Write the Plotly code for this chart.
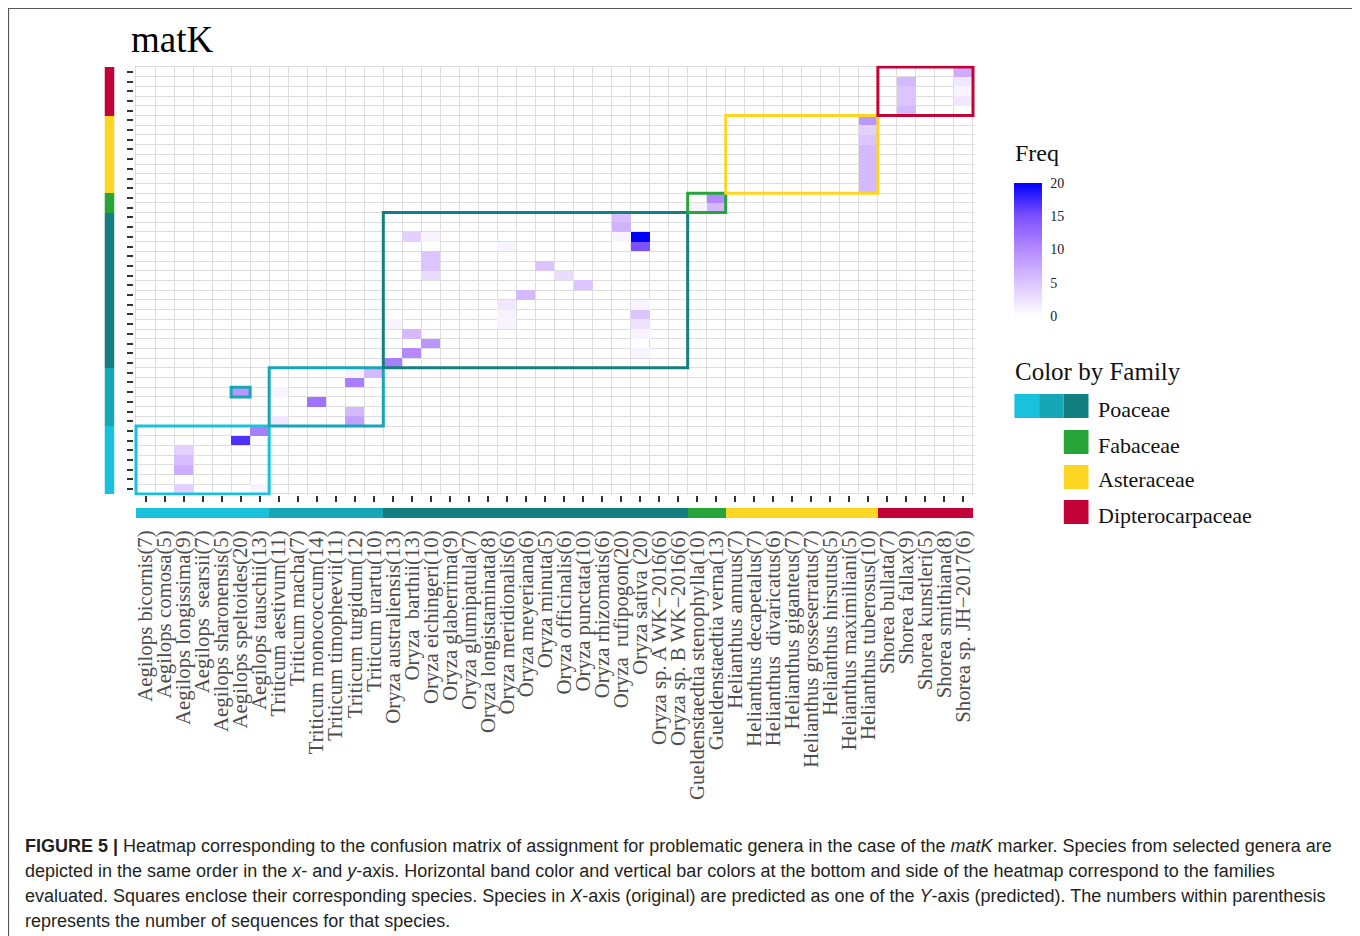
import plotly.graph_objects as go

# ---------------- data ----------------
species = [
    "Aegilops bicornis(7)", "Aegilops comosa(5)", "Aegilops longissima(9)", "Aegilops  searsii(7)",
    "Aegilops sharonensis(5)", "Aegilops speltoides(20)", "Aegilops tauschii(13)",
    "Triticum aestivum(11)", "Triticum macha(7)", "Triticum monococcum(14)", "Triticum timopheevii(11)",
    "Triticum turgidum(12)", "Triticum urartu(10)",
    "Oryza australiensis(13)", "Oryza  barthii(13)", "Oryza eichingeri(10)", "Oryza glaberrima(9)",
    "Oryza glumipatula(7)", "Oryza longistaminata(8)", "Oryza meridionalis(6)", "Oryza meyeriana(6)",
    "Oryza minuta(5)", "Oryza officinalis(6)", "Oryza punctata(10)", "Oryza rhizomatis(6)",
    "Oryza  rufipogon(20)", "Oryza sativa (20)", "Oryza sp. A WK\u22122016(6)", "Oryza sp. B WK\u22122016(6)",
    "Gueldenstaedtia stenophylla(10)", "Gueldenstaedtia verna(13)",
    "Helianthus annuus(7)", "Helianthus decapetalus(7)", "Helianthus  divaricatus(6)", "Helianthus giganteus(7)",
    "Helianthus grosseserratus(7)", "Helianthus hirsutus(5)", "Helianthus maximiliani(5)", "Helianthus tuberosus(10)",
    "Shorea bullata(7)", "Shorea fallax(9)", "Shorea kunstleri(5)", "Shorea smithiana(8)", "Shorea sp. JH\u22122017(6)",
]

genera = ["Aegilops", "Triticum", "Oryza", "Gueldenstaedtia", "Helianthus", "Shorea"]
genus_counts = [7, 6, 16, 2, 8, 5]
genus_colors = ["#1AC1DC", "#17A6B5", "#137F81", "#27A539", "#FDD623", "#C30238"]

families = ["Poaceae", "Fabaceae", "Asteraceae", "Dipterocarpaceae"]
family_colors = [["#1AC1DC", "#17A6B5", "#137F81"], ["#27A539"], ["#FDD623"], ["#C30238"]]

# confusion cells: original species (x index), predicted species (y index), frequency
cell_orig = [2, 2, 2, 2, 6, 6, 5, 5, 7, 7, 9, 11, 11, 11, 11, 12,
             13, 13, 14, 14, 14, 15, 15, 15, 15, 15, 19, 19, 19, 19, 20, 21, 22, 23,
             25, 25, 25, 26, 26, 26, 26, 26, 26, 26,
             29, 30, 30,
             38, 38, 38, 38, 38, 38, 38, 38,
             40, 40, 40, 40, 43, 43, 43, 43]
cell_pred = [0, 2, 3, 4, 0, 6, 5, 10, 7, 10, 9, 7, 8, 11, 12, 12,
             13, 17, 14, 16, 26, 15, 22, 23, 24, 26, 17, 18, 19, 25, 20, 23, 22, 21,
             26, 27, 28, 14, 16, 17, 18, 19, 25, 26,
             29, 29, 30,
             31, 32, 33, 34, 35, 36, 37, 38,
             39, 40, 41, 42, 40, 41, 42, 43]
cell_freq = [4, 7, 5.5, 4, 1, 11, 17, 9, 2, 1, 12, 8, 6, 11, 1, 6,
             11, 1, 10, 6, 4, 9, 3, 5, 5, 1, 1, 1, 2, 1, 6, 5, 3, 5,
             1, 6.5, 5.5, 1, 1, 2.5, 5, 1, 15, 20,
             1, 6, 10,
             6, 6, 6, 6, 6, 5, 4, 9,
             6, 5, 5, 6, 2, 1, 2, 7]

freq_ticks = [0, 5, 10, 15, 20]

# ---------------- derived ----------------
n = len(species)
idx = list(range(n))
z = [[None] * n for _ in range(n)]
for i, j, v in zip(cell_orig, cell_pred, cell_freq):
    z[j][i] = v

genus_code = []
for g, c in enumerate(genus_counts):
    genus_code += [g] * c

ng = len(genera)
bar_scale = []
for k, col in enumerate(genus_colors):
    bar_scale.append([k / ng, col])
    bar_scale.append([(k + 1) / ng, col])

# the page body has an 8px margin; figure occupies page pixels 8..1360 x 8..936
OFF = 8
W, H = 1360 - OFF, 936 - OFF


def fx(px):
    return (px - OFF) / W


def fy(py):
    return 1 - (py - OFF) / H


SERIF = "Liberation Serif, Times New Roman, serif"
SANS = "Liberation Sans, Arial, sans-serif"

# page-pixel geometry of the heatmap panel
px_left, cell_w = 136.0, 837.0 / 44
py_bottom, cell_h = 494.0, 427.0 / 44
ext = 0.12
rng = [-0.5 - ext, n - 0.5 + ext]
xd = [fx(px_left + cell_w * (rng[0] + 0.5)), fx(px_left + cell_w * (rng[1] + 0.5))]
yd = [fy(py_bottom - cell_h * (rng[0] + 0.5)), fy(py_bottom - cell_h * (rng[1] + 0.5))]

fig = go.Figure()

fig.add_trace(go.Heatmap(
    x=idx, y=idx, z=z, zmin=0, zmax=20,
    colorscale=[[0, "#FFFFFF"], [0.25, "#DCC4FF"], [0.5, "#B38BFF"], [0.75, "#7E51FF"], [1, "#0000FF"]],
    hoverongaps=False,
    colorbar=dict(
        x=fx(1014), xanchor="left", y=fy(183), yanchor="top",
        len=(316 - 183) / H, lenmode="fraction", thickness=28, thicknessmode="pixels",
        outlinewidth=0, tickvals=freq_ticks, ticks="outside", ticklen=6, tickcolor="rgba(0,0,0,0)",
        tickfont=dict(family=SERIF, size=14, color="#222"), xpad=0, ypad=0,
    ),
    xaxis="x", yaxis="y",
))

# bottom family band
fig.add_trace(go.Heatmap(
    x=idx, y=[0], z=[genus_code], zmin=-0.5, zmax=ng - 0.5, colorscale=bar_scale,
    showscale=False, hoverinfo="skip", xaxis="x2", yaxis="y2",
))
# left family band
fig.add_trace(go.Heatmap(
    x=[0], y=idx, z=[[c] for c in genus_code], zmin=-0.5, zmax=ng - 0.5, colorscale=bar_scale,
    showscale=False, hoverinfo="skip", xaxis="x3", yaxis="y3",
))

minor = dict(tickmode="linear", tick0=-0.5, dtick=1, showgrid=True, gridcolor="#DEDEDE", gridwidth=1, ticks="")

fig.update_layout(
    width=W, height=H, margin=dict(l=0, r=0, t=0, b=0),
    paper_bgcolor="white", plot_bgcolor="white", showlegend=False,
    xaxis=dict(domain=xd, range=rng, anchor="y", tickmode="array", tickvals=idx, showticklabels=False,
               ticks="outside", ticklen=6, tickwidth=2, tickcolor="#333", showgrid=False, zeroline=False,
               minor=minor),
    yaxis=dict(domain=yd, range=rng, anchor="x", tickmode="array", tickvals=idx, showticklabels=False,
               ticks="outside", ticklen=6, tickwidth=2, tickcolor="#333", showgrid=False, zeroline=False,
               minor=minor),
    xaxis2=dict(domain=xd, matches="x", anchor="y2", tickmode="array", tickvals=idx, ticktext=species,
                tickangle=-90, ticks="outside", ticklen=3, tickcolor="rgba(0,0,0,0)", showgrid=False,
                zeroline=False, tickfont=dict(family=SERIF, size=20.8, color="#4D4D4D")),
    yaxis2=dict(domain=[fy(518), fy(508)], range=[-0.5, 0.5], anchor="x2", visible=False),
    xaxis3=dict(domain=[fx(104.5), fx(114.5)], range=[-0.5, 0.5], anchor="y3", visible=False),
    yaxis3=dict(domain=yd, matches="y", anchor="x3", visible=False),
)

# genus boxes
shapes = []
start = 0
for g, c in enumerate(genus_counts):
    shapes.append(dict(type="rect", xref="x", yref="y", x0=start - 0.5, x1=start + c - 0.5,
                       y0=start - 0.5, y1=start + c - 0.5, line=dict(color=genus_colors[g], width=3)))
    start += c
# small highlighted cell (Aegilops speltoides predicted as Triticum timopheevii)
shapes.append(dict(type="rect", xref="x", yref="y", x0=5 - 0.5, x1=5 + 0.5, y0=10 - 0.5, y1=10 + 0.5,
                   line=dict(color=genus_colors[1], width=3)))

# outer frame
shapes.append(dict(type="rect", xref="paper", yref="paper", x0=fx(8.5), x1=fx(1356), y0=-0.05, y1=fy(8.5),
                   line=dict(color="#555", width=1.2), fillcolor="rgba(0,0,0,0)"))

annotations = []
# family legend swatches
sw_rows = [(394, 418), (430, 454), (465, 489), (500, 524)]
for f, (fam, cols) in enumerate(zip(families, family_colors)):
    y0, y1 = sw_rows[f]
    x_right = 1088.5
    for k, col in enumerate(reversed(cols)):
        xr = x_right - k * 24.7
        shapes.append(dict(type="rect", xref="paper", yref="paper", x0=fx(xr - 24.7), x1=fx(xr),
                           y0=fy(y1), y1=fy(y0), line=dict(width=0), fillcolor=col))
    annotations.append(dict(xref="paper", yref="paper", x=fx(1096), y=fy((y0 + y1) / 2 + 3),
                            xanchor="left", yanchor="middle", showarrow=False, text=fam,
                            font=dict(family=SERIF, size=22, color="#111")))

annotations += [
    dict(xref="paper", yref="paper", x=fx(129), y=fy(40), xanchor="left", yanchor="middle",
         showarrow=False, text="matK", font=dict(family=SERIF, size=37, color="#000")),
    dict(xref="paper", yref="paper", x=fx(1013), y=fy(153), xanchor="left", yanchor="middle",
         showarrow=False, text="Freq", font=dict(family=SERIF, size=24, color="#111")),
    dict(xref="paper", yref="paper", x=fx(1013), y=fy(371), xanchor="left", yanchor="middle",
         showarrow=False, text="Color by Family", font=dict(family=SERIF, size=25, color="#111")),
]

caption = [
    "<b>FIGURE 5 |</b> Heatmap corresponding to the confusion matrix of assignment for problematic genera in the case of the <i>matK</i> marker. Species from selected genera are",
    "depicted in the same order in the <i>x</i>- and <i>y</i>-axis. Horizontal band color and vertical bar colors at the bottom and side of the heatmap correspond to the families",
    "evaluated. Squares enclose their corresponding species. Species in <i>X</i>-axis (original) are predicted as one of the <i>Y</i>-axis (predicted). The numbers within parenthesis",
    "represents the number of sequences for that species.",
]
for k, line in enumerate(caption):
    annotations.append(dict(xref="paper", yref="paper", x=fx(23), y=fy(846 + 25 * k),
                            xanchor="left", yanchor="middle", showarrow=False, text=line,
                            font=dict(family=SANS, size=18, color="#231F20")))

fig.update_layout(shapes=shapes, annotations=annotations)

fig.write_html("out.html")
